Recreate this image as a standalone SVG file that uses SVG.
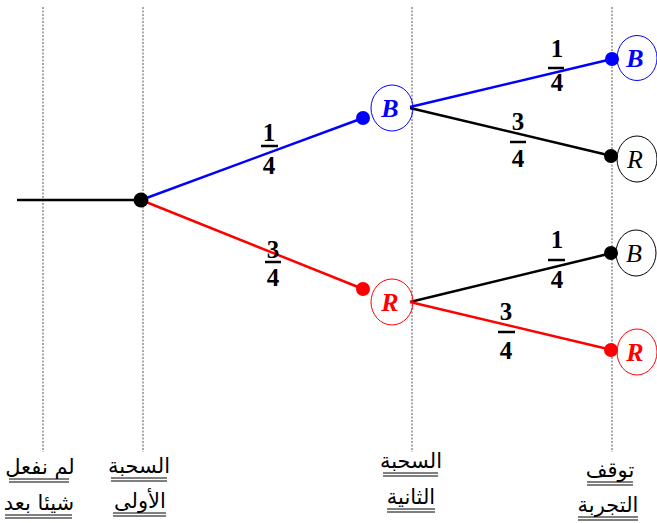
<svg xmlns="http://www.w3.org/2000/svg" width="657" height="523" viewBox="0 0 657 523">
<style>
.guide{stroke:#555;stroke-width:1;stroke-dasharray:2,1.5;fill:none}
.edge{stroke-width:2.5;fill:none}
.frac{font-family:"Liberation Serif","DejaVu Serif",serif;font-weight:bold;font-size:25px;text-anchor:middle;fill:#000}
.bar{stroke:#000;stroke-width:2.5}
.lbl{font-family:"Liberation Serif","DejaVu Serif",serif;font-style:italic;font-size:26px;text-anchor:middle}
.ar{font-family:"DejaVu Sans","Noto Sans",sans-serif;font-size:21px;text-anchor:middle;fill:#000}
.ul{stroke:#000;stroke-width:1}
</style>
<g id="guides">
<line class="guide" x1="43" y1="7" x2="43" y2="452"/>
<line class="guide" x1="143" y1="7" x2="143" y2="452"/>
<line class="guide" x1="412" y1="7" x2="412" y2="452"/>
<line class="guide" x1="612" y1="7" x2="612" y2="452"/>
</g>
<g id="connectors">
<line class="edge" x1="17" y1="200" x2="141" y2="200" stroke="#000"/>
<line class="edge" x1="141" y1="200" x2="363" y2="118" stroke="#0000ff"/>
<line class="edge" x1="141" y1="200" x2="363" y2="289" stroke="#ff0000"/>
<line class="edge" x1="410" y1="107" x2="612" y2="59" stroke="#0000ff"/>
<line class="edge" x1="410" y1="108" x2="612" y2="156" stroke="#000"/>
<line class="edge" x1="410" y1="302" x2="612" y2="253" stroke="#000"/>
<line class="edge" x1="410" y1="302" x2="612" y2="350" stroke="#ff0000"/>
</g>
<g id="root"><circle cx="141" cy="200" r="7.5" fill="#000"/></g>
<g id="nodeB1">
<circle cx="363" cy="118" r="7" fill="#0000ff"/>
<ellipse cx="392" cy="108" rx="21" ry="23" fill="none" stroke="#0000ff" stroke-width="1"/>
<text class="lbl" x="390" y="117" fill="#0000ff" font-weight="bold">B</text>
</g>
<g id="nodeR1">
<circle cx="363" cy="289" r="7" fill="#ff0000"/>
<ellipse cx="392" cy="302" rx="21" ry="23" fill="none" stroke="#ff0000" stroke-width="1"/>
<text class="lbl" x="390" y="311" fill="#ff0000" font-weight="bold">R</text>
</g>
<g id="nodeBB">
<circle cx="612" cy="59" r="7" fill="#0000ff"/>
<ellipse cx="637" cy="58" rx="20" ry="22.5" fill="none" stroke="#0000ff" stroke-width="1"/>
<text class="lbl" x="635" y="67" fill="#0000ff" font-weight="bold">B</text>
</g>
<g id="nodeBR">
<circle cx="611" cy="156" r="7" fill="#000"/>
<ellipse cx="637" cy="159" rx="20" ry="23" fill="none" stroke="#000" stroke-width="1"/>
<text class="lbl" x="635" y="168" fill="#000">R</text>
</g>
<g id="nodeRB">
<circle cx="611" cy="253" r="7" fill="#000"/>
<ellipse cx="636" cy="253" rx="20" ry="23" fill="none" stroke="#000" stroke-width="1"/>
<text class="lbl" x="634" y="262" fill="#000">B</text>
</g>
<g id="nodeRR">
<circle cx="611" cy="350" r="7" fill="#ff0000"/>
<ellipse cx="637" cy="352" rx="20" ry="23" fill="none" stroke="#ff0000" stroke-width="1"/>
<text class="lbl" x="635" y="361" fill="#ff0000" font-weight="bold">R</text>
</g>
<g id="fractions">
<text class="frac" x="269" y="141">1</text><line class="bar" x1="261" y1="146" x2="278" y2="146"/><text class="frac" x="269" y="174">4</text>
<text class="frac" x="273" y="258">3</text><line class="bar" x1="265" y1="262" x2="281" y2="262"/><text class="frac" x="273" y="286">4</text>
<text class="frac" x="557" y="57">1</text><line class="bar" x1="548" y1="68" x2="564" y2="68"/><text class="frac" x="557" y="91">4</text>
<text class="frac" x="518" y="130">3</text><line class="bar" x1="510" y1="142" x2="526" y2="142"/><text class="frac" x="518" y="167">4</text>
<text class="frac" x="557" y="248">1</text><line class="bar" x1="548" y1="260" x2="565" y2="260"/><text class="frac" x="557" y="288">4</text>
<text class="frac" x="506" y="320">3</text><line class="bar" x1="498" y1="332" x2="515" y2="332"/><text class="frac" x="506" y="359">4</text>
</g>
<g id="labels">
<text class="ar" x="40" y="474">لم نفعل</text>
<line class="ul" x1="9" y1="479" x2="69" y2="479"/><line class="ul" x1="9" y1="482" x2="69" y2="482"/>
<text class="ar" x="39" y="510">شيئا بعد</text>
<line class="ul" x1="5" y1="515" x2="72" y2="515"/><line class="ul" x1="5" y1="518" x2="72" y2="518"/>
<text class="ar" x="139" y="473">السحبة</text>
<line class="ul" x1="111" y1="478" x2="167" y2="478"/><line class="ul" x1="111" y1="481" x2="167" y2="481"/>
<text class="ar" x="140" y="508">الأولى</text>
<line class="ul" x1="113" y1="513" x2="166" y2="513"/><line class="ul" x1="113" y1="516" x2="166" y2="516"/>
<text class="ar" x="411" y="468">السحبة</text>
<line class="ul" x1="383" y1="473" x2="438" y2="473"/><line class="ul" x1="383" y1="476" x2="438" y2="476"/>
<text class="ar" x="411" y="504">الثانية</text>
<line class="ul" x1="387" y1="509" x2="435" y2="509"/><line class="ul" x1="387" y1="512" x2="435" y2="512"/>
<text class="ar" x="610" y="477">توقف</text>
<line class="ul" x1="587" y1="482" x2="633" y2="482"/><line class="ul" x1="587" y1="485" x2="633" y2="485"/>
<text class="ar" x="608" y="512">التجربة</text>
<line class="ul" x1="578" y1="517" x2="638" y2="517"/><line class="ul" x1="578" y1="520" x2="638" y2="520"/>
</g>
</svg>
